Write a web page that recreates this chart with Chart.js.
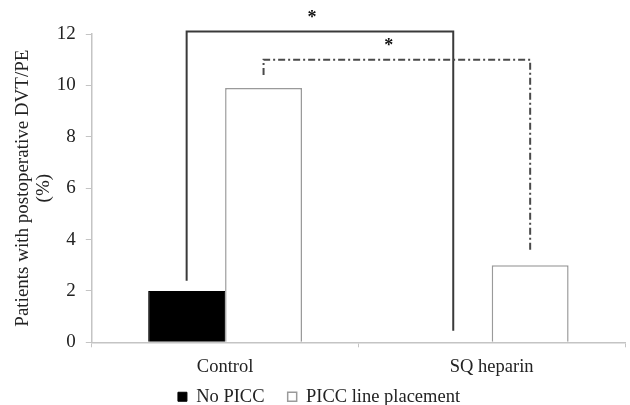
<!DOCTYPE html>
<html>
<head>
<meta charset="utf-8">
<script src="https://cdn.jsdelivr.net/npm/chart.js@4/dist/chart.umd.min.js"></script>
<style>
    html, body { margin: 0; padding: 0; background: #fff; }
    #wrap { width: 630px; height: 405px; }
</style>
</head>
<body>
<div id="wrap"><canvas id="dvtChart"></canvas></div>
<script>
// data
const categories = ['Control', 'SQ heparin'];
const noPicc = [2.0, 0];
const piccLine = [9.9, 3.0];
const seriesNames = ['No PICC', 'PICC line placement'];

// significance brackets: [start value, top value, end value]
const bracketSolid = [2.4, 12.1, 0.45];
const bracketDashed = [10.4, 11.0, 3.6];
const starLevels = [12.7, 11.6];

const serif = "'Liberation Serif', 'Times New Roman', serif";

// draws the two brackets and asterisks
const bracketPlugin = {
    id: 'brackets',
    afterDatasetsDraw(chart) {
        const { ctx, scales: { y } } = chart;
        const m0 = chart.getDatasetMeta(0).data;
        const m1 = chart.getDatasetMeta(1).data;

        function bracket(x1, x2, vals, color, dash) {
            ctx.save();
            ctx.strokeStyle = color;
            ctx.lineWidth = 2;
            ctx.setLineDash(dash);
            ctx.beginPath();
            ctx.moveTo(x1, y.getPixelForValue(vals[0]));
            ctx.lineTo(x1, y.getPixelForValue(vals[1]));
            ctx.lineTo(x2, y.getPixelForValue(vals[1]));
            ctx.lineTo(x2, y.getPixelForValue(vals[2]));
            ctx.stroke();
            ctx.restore();
        }

        bracket(m0[0].x, m0[1].x, bracketSolid, '#3a3a3a', []);
        bracket(m1[0].x, m1[1].x, bracketDashed, '#4a4a4a', [7, 3, 2, 3]);

        ctx.save();
        ctx.fillStyle = '#111';
        ctx.font = 'bold 18px ' + serif;
        ctx.textAlign = 'center';
        ctx.textBaseline = 'middle';
        ctx.fillText('*', (m0[0].x + m0[1].x) / 2 - 8, y.getPixelForValue(starLevels[0]) + 2);
        ctx.fillText('*', (m1[0].x + m1[1].x) / 2 - 8, y.getPixelForValue(starLevels[1]) + 2);
        ctx.restore();
    }
};

const ctx = document.getElementById('dvtChart');
new Chart(ctx, {
    type: 'bar',
    data: {
        labels: categories,
        datasets: [
            {
                label: seriesNames[0],
                data: noPicc,
                backgroundColor: '#000',
                borderColor: '#000',
                borderWidth: 1,
            },
            {
                label: seriesNames[1],
                data: piccLine,
                backgroundColor: '#fff',
                borderColor: '#9a9a9a',
                borderWidth: 1.5,
            },
        ]
    },
    options: {
        responsive: true,
        maintainAspectRatio: false,
        animation: false,
        categoryPercentage: 0.577,
        barPercentage: 1,
        layout: {
            padding: { top: 34, right: 5, left: 13, bottom: -11 }
        },
        scales: {
            x: {
                border: { display: true, color: '#c4c4c4', width: 1.5 },
                grid: {
                    drawOnChartArea: false,
                    color: '#c4c4c4',
                    tickLength: 5,
                },
                ticks: {
                    color: '#222',
                    padding: 9,
                    font: { size: 18.5, family: serif }
                }
            },
            y: {
                min: 0,
                max: 12,
                border: { display: true, color: '#c4c4c4', width: 1.5 },
                grid: {
                    drawOnChartArea: false,
                    color: '#c4c4c4',
                    tickLength: 6,
                },
                ticks: {
                    stepSize: 2,
                    color: '#222',
                    padding: 10,
                    font: { size: 19, family: serif }
                },
                title: {
                    display: true,
                    text: ['Patients with postoperative DVT/PE', '(%)'],
                    color: '#222',
                    padding: { top: 0, bottom: -8 },
                    font: { size: 19, family: serif, lineHeight: 1.1 }
                }
            }
        },
        plugins: {
            legend: {
                position: 'bottom',
                labels: {
                    boxWidth: 9,
                    boxHeight: 9,
                    padding: 0,
                    color: '#222',
                    font: { size: 18.5, family: serif },
                    generateLabels(chart) {
                        const items = Chart.defaults.plugins.legend.labels.generateLabels(chart);
                        items[0].text = items[0].text + '     ';
                        return items;
                    }
                }
            },
            tooltip: { enabled: false }
        }
    },
    plugins: [bracketPlugin]
});
</script>
</body>
</html>
